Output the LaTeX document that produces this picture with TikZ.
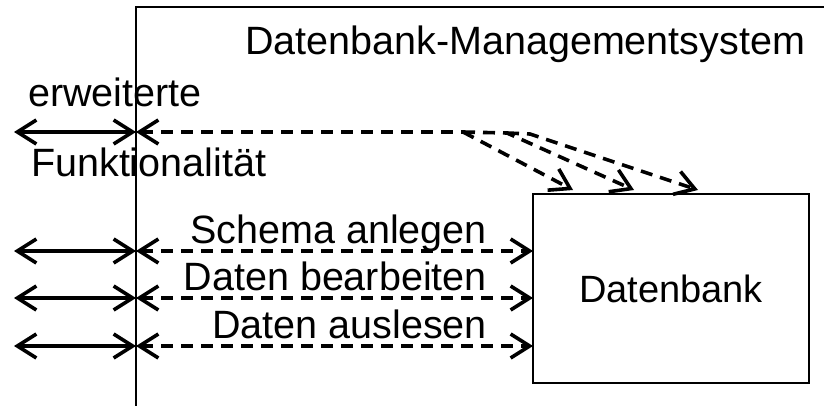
\documentclass[tikz,border=0pt]{standalone}
\usepackage{fontspec}
\setmainfont{Liberation Sans}
\usetikzlibrary{arrows.meta}
\begin{document}
\begin{tikzpicture}[x=1pt,y=-1pt,
  lbl/.style={font=\fontsize{39.5}{47}\selectfont, inner sep=0pt},
  barb/.tip={Straight Barb[length=19pt,width=24pt,line width=3.6pt]},
  solidlink/.style={line width=3.6pt, barb-barb},
  dashlink/.style={line width=3.6pt, dash pattern=on 12pt off 8pt},
  frame/.style={line width=2.2pt}]
\useasboundingbox (0,0) rectangle (824,406);

% system boundary (open towards the right and the bottom)
\coordinate (sysbottom) at (136,420);
\coordinate (syscorner) at (136,7);
\coordinate (sysright) at (840,7);
\draw[frame] (sysbottom) -- (syscorner) -- (sysright);

\node[lbl, anchor=base west] (dbms) at (245,55) {Datenbank-Managementsystem};

% database box
\node[frame, draw, font=\fontsize{38}{46}\selectfont, minimum width=276pt,
      minimum height=189pt, inner sep=0pt] (db) at (671,288.5) {Datenbank};

% extended functionality
\node[lbl, anchor=base west] (erw) at (28,107) {erweiterte};
\node[lbl, anchor=base west] (fkt) at (31,177) {Funktionalität};

\coordinate (outA) at (14,132);
\coordinate (inA) at (136,132);
\coordinate (junA) at (463,132);
\coordinate (junB) at (507,133);
\coordinate (junC) at (530,134);
\coordinate (tgtA) at (573,190);
\coordinate (tgtB) at (634,190);
\coordinate (tgtC) at (698,190);
\draw[solidlink] (outA) -- (inA);
\draw[dashlink, barb-] (inA) -- (junA);
\draw[dashlink, -barb] (junA) -- (tgtA);
\draw[dashlink, -barb] (junA) -- (junB) -- (tgtB);
\draw[dashlink, -barb] (junB) -- (junC) -- (tgtC);

% the three standard operations
\foreach \name/\y/\txt in {sch/251/Schema anlegen, bea/298/Daten bearbeiten, aus/346/Daten auslesen}{
  \coordinate (out\name) at (14,\y);
  \coordinate (in\name) at (136,\y);
  \coordinate (db\name) at (533,\y);
  \draw[solidlink] (out\name) -- (in\name);
  \draw[dashlink, barb-barb] (in\name) -- (db\name);
  \node[lbl, anchor=base east] (l\name) at (487,\y-8) {\txt};
}
\end{tikzpicture}
\end{document}
